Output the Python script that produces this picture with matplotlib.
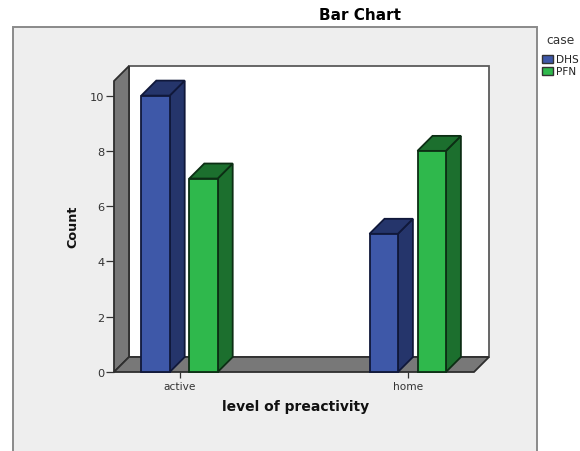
import matplotlib
matplotlib.use("Agg")
import matplotlib.pyplot as plt
from matplotlib.patches import Polygon, Rectangle, Patch

categories = ["active", "home"]
dhs_counts = [10, 5]
pfn_counts = [7, 8]
y_ticks = [0, 2, 4, 6, 8, 10]
series = [("DHS", dhs_counts, "#3E58A8", "#25356B"),
          ("PFN", pfn_counts, "#2FB84C", "#1C6F2E")]

W, H = 580, 452
fig = plt.figure(figsize=(W / 100, H / 100), dpi=100, facecolor="white")
plt.rcParams["font.family"] = ["DejaVu Sans"]

# outer panel (runs off the bottom of the image)
fig.add_artist(Rectangle((13 / W, -0.1), (537 - 13) / W, 0.1 + (H - 28) / H,
                         transform=fig.transFigure, facecolor="#EEEEEE",
                         edgecolor="#8A8A8A", linewidth=1.4, zorder=-5))

L, R, B, T = 114, 474, 373, 82
ax = fig.add_axes([L / W, (H - B) / H, (R - L) / W, (B - T) / H])
ax.patch.set_alpha(0)
for s in ax.spines.values():
    s.set_visible(False)

px_x = 228.2   # pixels per category step
px_y = 27.64   # pixels per count
ax.set_xlim(L / px_x - 179.5 / px_x, R / px_x - 179.5 / px_x)
ax.set_ylim(0, (B - T) / px_y)
x0, x1 = ax.get_xlim()
y0, y1 = ax.get_ylim()
dx, dy = 15 / px_x, 15 / px_y
bw, off = 28.4 / px_x, 24 / px_x
edge = "#2E2E2E"
kw = dict(clip_on=False, linewidth=1.3, joinstyle="miter")

ax.add_patch(Polygon([(x0 + dx, y0 + dy), (x1 + dx, y0 + dy), (x1 + dx, y1 + dy), (x0 + dx, y1 + dy)],
                     facecolor="white", edgecolor="#5A5A5A", zorder=1, **kw))
ax.add_patch(Polygon([(x0, y0), (x0 + dx, y0 + dy), (x0 + dx, y1 + dy), (x0, y1)],
                     facecolor="#787878", edgecolor=edge, zorder=2, **kw))
ax.add_patch(Polygon([(x0, y0), (x1, y0), (x1 + dx, y0 + dy), (x0 + dx, y0 + dy)],
                     facecolor="#787878", edgecolor=edge, zorder=2, **kw))

z = 3
for pos in range(len(categories)):
    for j, (name, vals, front, dark) in enumerate(series):
        v = vals[pos]
        c = pos + (2 * j - 1) * off
        a, b = c - bw / 2, c + bw / 2
        be = "#10183A" if j == 0 else "#0C2E14"
        ax.add_patch(Polygon([(b, 0), (b + dx, dy), (b + dx, v + dy), (b, v)],
                             facecolor=dark, edgecolor=be, zorder=z, **kw))
        ax.add_patch(Polygon([(a, v), (b, v), (b + dx, v + dy), (a + dx, v + dy)],
                             facecolor=dark, edgecolor=be, zorder=z, **kw))
        ax.add_patch(Polygon([(a, 0), (b, 0), (b, v), (a, v)],
                             facecolor=front, edgecolor=be, zorder=z + 1, **kw))
        z += 2

ax.set_xticks(range(len(categories)), categories)
ax.set_yticks(y_ticks)
ax.tick_params(axis="x", length=4.6, width=0.9, color="#333333", labelsize=7.6,
               labelcolor="#333333", pad=1.8)
ax.tick_params(axis="y", length=5.8, width=0.9, color="#333333", labelsize=8.2,
               labelcolor="#333333", pad=1)

fig.text(360 / W, 1 - 16 / H, "Bar Chart", ha="center", va="center",
         fontsize=11, fontweight="bold", color="black")
fig.text(296 / W, 1 - 407.5 / H, "level of preactivity", ha="center", va="center",
         fontsize=10, fontweight="bold", color="#111111")
fig.text(72.5 / W, 1 - 227 / H, "Count", ha="center", va="center", rotation=90,
         fontsize=9.2, fontweight="bold", color="#111111")

handles = [Patch(facecolor=f, edgecolor="#333333", linewidth=1.0, label=n) for n, _, f, _ in series]
leg = fig.legend(handles=handles, title="case", loc="upper left",
                 bbox_to_anchor=(541.5 / W, 1 - 34 / H), frameon=False, fontsize=7.6,
                 title_fontsize=8.8, handlelength=1.1, handleheight=0.8,
                 handletextpad=0.3, labelspacing=0.2, borderpad=0, borderaxespad=0)
leg.get_title().set_color("#333333")
leg._legend_box.sep = 6
for t in leg.get_texts():
    t.set_color("#222222")

fig.savefig("out.png", dpi=100)
